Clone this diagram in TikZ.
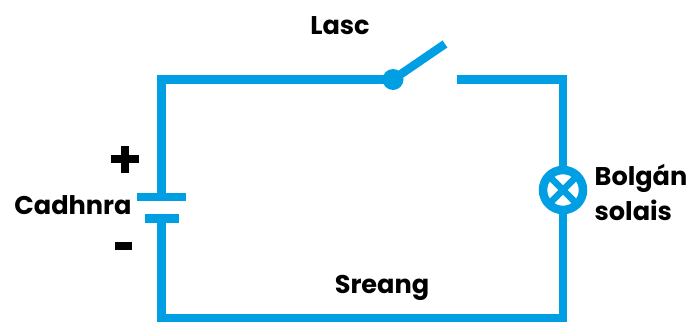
\documentclass[tikz,border=0pt]{standalone}
\usepackage{fontspec}
\setmainfont{Poppins}[BoldFont={Poppins Bold}]
\definecolor{wire}{HTML}{009FE3}
\tikzset{
  wireline/.style={draw=wire,line width=8.5pt},
  lbl/.style={font=\fontsize{25.6}{35}\selectfont\bfseries,text=black,inner sep=0pt,align=left,anchor=center},
}
\begin{document}
\begin{tikzpicture}[x=1pt,y=-1pt]
\useasboundingbox (0,0) rectangle (693,327);
\coordinate (sw) at (393,79.5);
\coordinate (swtip) at (445,44);
\coordinate (sr) at (457,79.5);
\coordinate (lamp) at (563,190);
\coordinate (bt) at (161.5,197);
\coordinate (bb) at (161.5,218.5);
\draw[wireline] (sr) -- (563,79.5) -- (lamp);
\draw[wireline] (lamp) -- (563,318) -- (161.5,318) -- (bb);
\draw[wireline] (bt) -- (161.5,79.5) -- (sw);
\draw[wireline] (sw) -- (swtip);
\fill[wire] (sw) circle (10.5);
\draw[wireline] (137,197) -- (186,197);
\draw[wireline] (145,218.5) -- (179,218.5);
\node[circle,draw=wire,line width=8.5pt,fill=white,minimum size=40pt,inner sep=0pt] (lp) at (lamp) {};
\draw[draw=wire,line width=6.5pt] (lamp)+(-15,-15) -- +(15,15);
\draw[draw=wire,line width=6.5pt] (lamp)+(-15,15) -- +(15,-15);
\node[lbl] (lasc) at (340,26) {Lasc};
\node[lbl] (cad) at (73,205) {Cadhnra};
\node[lbl] (bol) at (641,192) {Bolgán\\solais};
\node[lbl] (sre) at (382,288) {Sreang};
\fill (121,146) rectangle (129,173);
\fill (111,155) rectangle (139,163);
\fill (115,242) rectangle (132,250);
\end{tikzpicture}
\end{document}
